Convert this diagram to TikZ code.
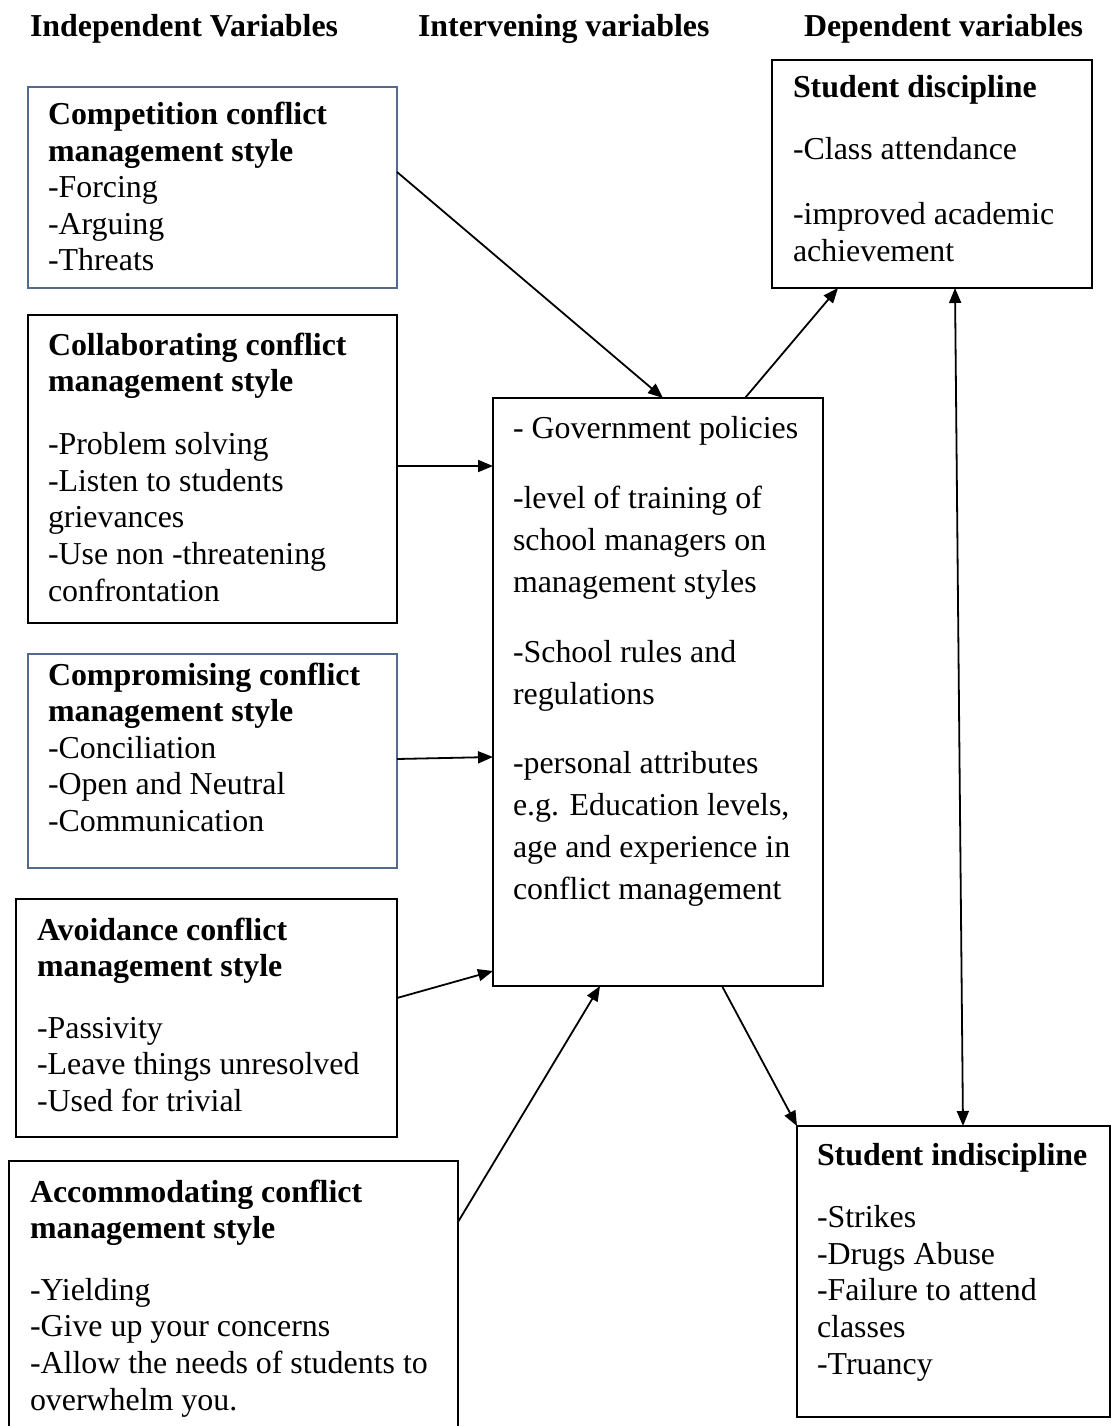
\documentclass[tikz,border=0pt]{standalone}
\usepackage{fontspec}
\setmainfont{Liberation Serif}
\usetikzlibrary{arrows.meta}
\definecolor{boxblue}{RGB}{84,106,140}
\newcommand{\txtlines}[2][36.6pt]{\vtop{\baselineskip=#1\lineskiplimit=-100pt\lineskip=0pt #2}}
\newcommand{\lineitem}[1]{\hbox{#1}}
\newcommand{\pgap}[1]{\vskip #1\relax}
\begin{document}
\begin{tikzpicture}[x=1pt,y=-1pt,
  every node/.style={inner sep=0pt, outer sep=0pt, font=\fontsize{31.9pt}{36.6pt}\selectfont},
  bluebox/.style={draw=boxblue, line width=1.2pt, rectangle, anchor=north west},
  blackbox/.style={draw=black, line width=1.8pt, rectangle, anchor=north west},
  arr/.style={-{Triangle[length=15pt,width=12pt]}, line width=1.8pt},
  darr/.style={{Triangle[length=15pt,width=12pt]}-{Triangle[length=15pt,width=12pt]}, line width=1.8pt},
  txt/.style={anchor=base west}]
\useasboundingbox (0,0) rectangle (1111,1426);
\clip (0,0) rectangle (1111,1426);

% headers
\node[txt] (h1) at (30,37) {\bfseries Independent Variables};
\node[txt] (h2) at (418,37) {\bfseries Intervening variables};
\node[txt] (h3) at (804,37) {\bfseries Dependent variables};

% boxes
\node[bluebox, minimum width=369pt, minimum height=201pt] (b1) at (28,87) {};
\node[blackbox, minimum width=369pt, minimum height=308pt] (b2) at (28,315) {};
\node[bluebox, minimum width=369pt, minimum height=214pt] (b3) at (28,654) {};
\node[blackbox, minimum width=381pt, minimum height=238pt] (b4) at (16,899) {};
\node[blackbox, minimum width=449pt, minimum height=300pt] (b5) at (9,1161) {};
\node[blackbox, minimum width=330pt, minimum height=588pt] (c) at (493,398) {};
\node[blackbox, minimum width=320pt, minimum height=228pt] (d) at (772,60) {};
\node[blackbox, minimum width=313pt, minimum height=291pt] (ind) at (797,1126) {};

% texts
\node[txt] (t1) at (48,124.5) {\txtlines{%
  \lineitem{\bfseries Competition conflict}%
  \lineitem{\bfseries management style}%
  \lineitem{-Forcing}\lineitem{-Arguing}\lineitem{-Threats}}};
\node[txt] (t2) at (48,355) {\txtlines{%
  \lineitem{\bfseries Collaborating conflict}%
  \lineitem{\bfseries management style}\pgap{26.4pt}%
  \lineitem{-Problem solving}\lineitem{-Listen to students}%
  \lineitem{grievances}\lineitem{-Use non -threatening}\lineitem{confrontation}}};
\node[txt] (t3) at (48,685) {\txtlines{%
  \lineitem{\bfseries Compromising conflict}%
  \lineitem{\bfseries management style}%
  \lineitem{-Conciliation}\lineitem{-Open and Neutral}\lineitem{-Communication}}};
\node[txt] (t4) at (37,940) {\txtlines{%
  \lineitem{\bfseries Avoidance conflict}%
  \lineitem{\bfseries management style}\pgap{25pt}%
  \lineitem{-Passivity}\lineitem{-Leave things unresolved}\lineitem{-Used for trivial}}};
\node[txt] (t5) at (30,1202) {\txtlines{%
  \lineitem{\bfseries Accommodating conflict}%
  \lineitem{\bfseries management style}\pgap{25pt}%
  \lineitem{-Yielding}\lineitem{-Give up your concerns}%
  \lineitem{-Allow the needs of students to}\lineitem{overwhelm you.}}};
\node[txt] (tc) at (513,438) {\txtlines[42pt]{%
  \lineitem{- Government policies}\pgap{28pt}%
  \lineitem{-level of training of}\lineitem{school managers on}\lineitem{management styles}\pgap{28pt}%
  \lineitem{-School rules and}\lineitem{regulations}\pgap{27pt}%
  \lineitem{-personal attributes}\lineitem{e.g. Education levels,}%
  \lineitem{age and experience in}\lineitem{conflict management}}};
\node[txt] (td) at (793,98) {\txtlines[37pt]{%
  \lineitem{\bfseries Student discipline}\pgap{25pt}%
  \lineitem{-Class attendance}\pgap{28pt}%
  \lineitem{-improved academic}\lineitem{achievement}}};
\node[txt] (tind) at (817,1165) {\txtlines{%
  \lineitem{\bfseries Student indiscipline}\pgap{26pt}%
  \lineitem{-Strikes}\lineitem{-Drugs Abuse}\lineitem{-Failure to attend}%
  \lineitem{classes}\lineitem{-Truancy}}};

% connectors
\draw[arr] ([yshift=15.5pt]b1.east) -- ([xshift=5pt]c.north);
\draw[arr] ([yshift=3pt]b2.east) -- ([yshift=3pt]b2.east -| c.west);
\draw[arr] ([yshift=2pt]b3.east) -- ([yshift=-65pt]c.west);
\draw[arr] ([yshift=20pt]b4.east) -- ([yshift=-279pt]c.west);
\draw[arr] ([yshift=-61pt]b5.north east) -- ([xshift=-58pt]c.south);
\draw[arr] ([xshift=87pt]c.north) -- ([xshift=-94pt]d.south);
\draw[darr] ([xshift=23pt]d.south) -- ([xshift=9.5pt]ind.north);
\draw[arr] ([xshift=64pt]c.south) -- (ind.north west);
\end{tikzpicture}
\end{document}
